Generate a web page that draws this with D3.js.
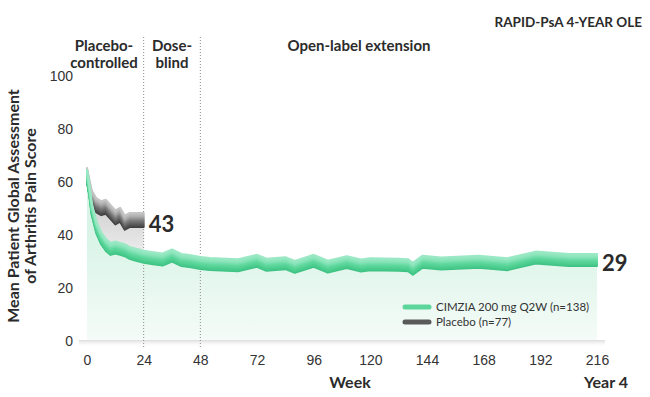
<!DOCTYPE html>
<html lang="en">
<head>
<meta charset="utf-8">
<title>RAPID-PsA 4-year OLE</title>
<script src="https://cdn.jsdelivr.net/npm/d3@7"></script>
<style>
    body { margin: 0; background: #fff; }
    svg { display: block; font-family: Lato, "Open Sans", sans-serif; }
    .tick text { font-size: 14px; font-weight: 300; fill: #333; }
    .head { font-size: 15px; font-weight: 700; fill: #2b2b2b; }
</style>
</head>
<body>
<svg width="650" height="397"></svg>
<script>
// values
var cimziaWeeks  = [0, 1, 2, 4, 6, 8, 10, 12, 14, 16, 18, 20, 22, 24, 28, 32, 36, 40, 44, 48, 52, 64, 72, 76, 84, 88, 96, 102, 110, 116, 120, 132, 136, 138, 142, 150, 166, 178, 190, 204, 216];
var cimziaValues = [60, 54.5, 47.5, 40.5, 36.5, 34, 32.5, 33, 32.5, 32, 31, 30.5, 30, 29.5, 29, 28.5, 30, 28.3, 27.8, 27.2, 26.8, 26.3, 28, 26.5, 27.1, 25.7, 28, 25.8, 27.5, 26.2, 26.7, 26.5, 26.3, 25, 27.6, 27, 27.6, 26.7, 29.2, 28.3, 28.3];
var placeboWeeks  = [0, 1, 2, 4, 6, 8, 10, 12, 14, 16, 18, 20, 22, 24];
var placeboValues = [60, 55.5, 51.5, 48.5, 47.5, 48, 46, 44, 45, 42, 43, 43, 43, 43];
var endLabels = ["29", "43"];
var legendLabels = ["CIMZIA 200 mg Q2W (n=138)", "Placebo (n=77)"];
var xTicks = [0, 24, 48, 72, 96, 120, 144, 168, 192, 216];
var yTicks = [0, 20, 40, 60, 80, 100];
var periodBreaks = [24, 48];

var svg = d3.select("svg");

var x = d3.scaleLinear().domain([0, 216]).range([87, 597]);
var y = d3.scaleLinear().domain([0, 100]).range([341, 76]);

var cimzia = cimziaWeeks.map(function(w, i) { return {week: w, value: cimziaValues[i]}; });
var placebo = placeboWeeks.map(function(w, i) { return {week: w, value: placeboValues[i]}; });
var cimziaAt = {};
cimzia.forEach(function(d) { cimziaAt[d.week] = d.value; });

var defs = svg.append("defs");

var gGreen = defs.append("linearGradient").attr("id", "fillGreen")
    .attr("gradientUnits", "userSpaceOnUse")
    .attr("x1", 0).attr("x2", 0).attr("y1", y(40)).attr("y2", y(0));
gGreen.append("stop").attr("offset", 0).attr("stop-color", "#d9f4e7");
gGreen.append("stop").attr("offset", 1).attr("stop-color", "#f5fbf8");

var gGrey = defs.append("linearGradient").attr("id", "fillGrey")
    .attr("gradientUnits", "userSpaceOnUse")
    .attr("x1", 0).attr("x2", 0).attr("y1", y(50)).attr("y2", y(30));
gGrey.append("stop").attr("offset", 0).attr("stop-color", "#d2d2d2");
gGrey.append("stop").attr("offset", 1).attr("stop-color", "#f1f1f1");

var gBase = defs.append("linearGradient").attr("id", "baseShadow")
    .attr("x1", 0).attr("x2", 0).attr("y1", 0).attr("y2", 1);
gBase.append("stop").attr("offset", 0).attr("stop-color", "#dcdcdc");
gBase.append("stop").attr("offset", 1).attr("stop-color", "#ffffff").attr("stop-opacity", 0);

var line = d3.line()
    .x(function(d) { return x(d.week); })
    .y(function(d) { return y(d.value); });

// fill under CIMZIA
svg.append("path")
    .datum(cimzia)
    .attr("fill", "url(#fillGreen)")
    .attr("d", d3.area()
        .x(function(d) { return x(d.week); })
        .y0(y(0))
        .y1(function(d) { return y(d.value); }));

// gap between placebo and CIMZIA
svg.append("path")
    .datum(placebo)
    .attr("fill", "url(#fillGrey)")
    .attr("d", d3.area()
        .x(function(d) { return x(d.week); })
        .y0(function(d) { return y(cimziaAt[d.week]); })
        .y1(function(d) { return y(d.value); }));

// soft baseline
svg.append("rect")
    .attr("x", x(0) - 8).attr("y", y(0) - 1)
    .attr("width", x(216) - x(0) + 16).attr("height", 7)
    .attr("fill", "url(#baseShadow)");

// period separators
svg.selectAll(".sep")
    .data(periodBreaks)
    .enter().append("line")
    .attr("class", "sep")
    .attr("x1", function(d) { return x(d); })
    .attr("x2", function(d) { return x(d); })
    .attr("y1", 37).attr("y2", 349)
    .attr("stroke", "#8a8a8a")
    .attr("stroke-width", 1)
    .attr("stroke-dasharray", "1,2");

// ribbon lines, stacked upward from the data value
function ribbon(data, h, colors) {
    var col = d3.piecewise(d3.interpolateRgb, colors);
    var g = svg.append("g");
    for (var k = 0; k <= h; k++) {
        g.append("path")
            .datum(data)
            .attr("transform", "translate(0," + (-k) + ")")
            .attr("fill", "none")
            .attr("stroke", col(k / h))
            .attr("stroke-width", 2)
            .attr("stroke-linejoin", "round")
            .attr("stroke-linecap", "round")
            .attr("d", line);
    }
}

ribbon(placebo, 14, ["#3f3f3f", "#5d5d5d", "#7d7d7d", "#a9a9a9", "#c4c4c4"]);
ribbon(cimzia, 12, ["#3fc384", "#4fcf91", "#62d89f", "#86e3b8", "#9ae9c4"]);

// end values
svg.append("text")
    .attr("x", x(216) + 5)
    .attr("y", y(cimzia[cimzia.length - 1].value) + 5)
    .style("font-size", "22px").style("font-weight", 700).attr("fill", "#2b2b2b")
    .text(endLabels[0]);
svg.append("text")
    .attr("x", x(24) + 5)
    .attr("y", y(placebo[placebo.length - 1].value) + 5)
    .style("font-size", "22px").style("font-weight", 700).attr("fill", "#2b2b2b")
    .text(endLabels[1]);

// axes
var yAxis = svg.append("g")
    .attr("transform", "translate(73,0)")
    .call(d3.axisLeft(y).tickValues(yTicks).tickSize(0).tickPadding(0));
yAxis.select(".domain").remove();
yAxis.selectAll("text").attr("dy", "0.35em");

var xAxis = svg.append("g")
    .attr("transform", "translate(0,354)")
    .call(d3.axisBottom(x).tickValues(xTicks).tickSize(0).tickPadding(0));
xAxis.select(".domain").remove();
xAxis.selectAll("text").attr("dy", "0.8em");

svg.append("text").attr("class", "head")
    .attr("x", 350).attr("y", 388).attr("text-anchor", "middle")
    .style("font-size", "16px").text("Week");
svg.append("text").attr("class", "head")
    .attr("x", 628).attr("y", 388).attr("text-anchor", "end")
    .style("font-size", "16px").text("Year 4");

svg.append("text")
    .attr("transform", "translate(19,206) rotate(-90)")
    .attr("text-anchor", "middle")
    .style("font-size", "16px").style("font-weight", 700).attr("fill", "#2b2b2b")
    .selectAll("tspan")
    .data(["Mean Patient Global Assessment", "of Arthritis Pain Score"])
    .enter().append("tspan")
    .attr("x", 0)
    .attr("dy", function(d, i) { return i ? 17 : 0; })
    .text(function(d) { return d; });

// headers
svg.append("text").attr("class", "head")
    .attr("x", 642).attr("y", 27).attr("text-anchor", "end")
    .style("font-size", "13.5px")
    .text("RAPID-PsA 4-YEAR OLE");

var periods = [
    {lines: ["Placebo-", "controlled"], cx: 104},
    {lines: ["Dose-", "blind"], cx: 172},
    {lines: ["Open-label extension"], cx: 359}
];
periods.forEach(function(p) {
    svg.append("text").attr("class", "head")
        .attr("text-anchor", "middle")
        .selectAll("tspan")
        .data(p.lines)
        .enter().append("tspan")
        .attr("x", p.cx)
        .attr("y", function(d, i) { return 51 + i * 17; })
        .text(function(d) { return d; });
});

// legend
var legend = svg.append("g").attr("transform", "translate(405,307)");
var legendColors = ["#5bd69b", "#5a5a5a"];
legendLabels.forEach(function(l, i) {
    legend.append("line")
        .attr("x1", 0).attr("x2", 24)
        .attr("y1", i * 15).attr("y2", i * 15)
        .attr("stroke", legendColors[i])
        .attr("stroke-width", 5)
        .attr("stroke-linecap", "round");
    legend.append("text")
        .attr("x", 31).attr("y", i * 15).attr("dy", "0.35em")
        .style("font-size", "11.5px").attr("fill", "#333")
        .text(l);
});
</script>
</body>
</html>
